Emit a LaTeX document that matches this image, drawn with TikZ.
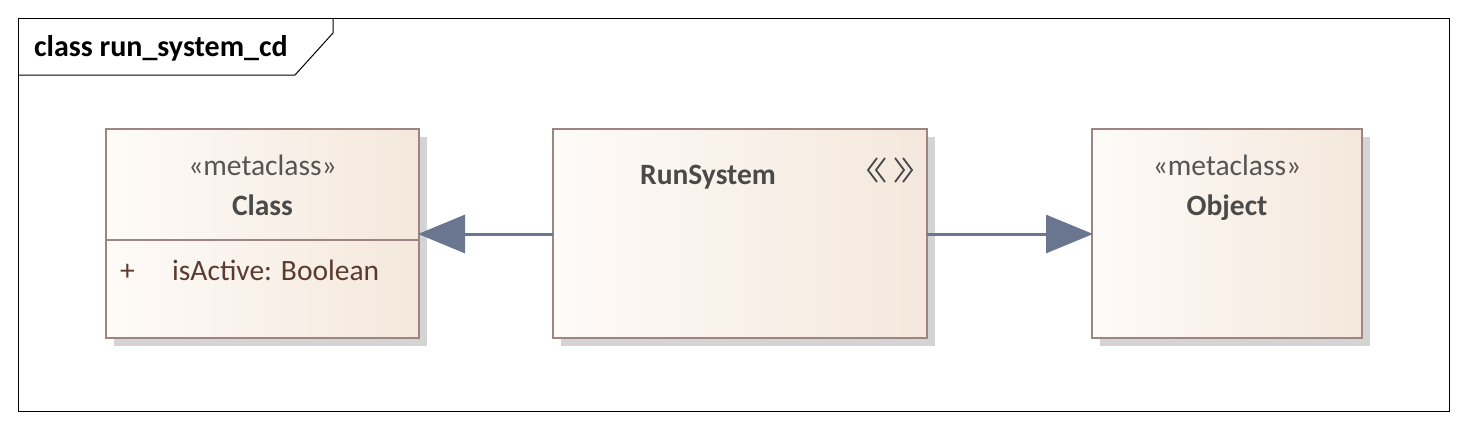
\documentclass[tikz,border=0pt]{standalone}
\usepackage{fontspec}
\setmainfont{Carlito}
\usetikzlibrary{arrows.meta,calc,shadows}
\definecolor{bord}{HTML}{9C8582}
\definecolor{fillL}{HTML}{FEFBF8}
\definecolor{fillR}{HTML}{F4E8DC}
\definecolor{shad}{HTML}{D4D4D4}
\definecolor{conncol}{HTML}{6A7590}
\definecolor{stereo}{HTML}{555555}
\definecolor{nametxt}{HTML}{4A4A4A}
\definecolor{attrtxt}{HTML}{5B3B2F}
\tikzset{
  umlbox/.style={draw=bord, line width=2.5pt, left color=fillL, right color=fillR,
    anchor=north west, inner sep=0pt, outer sep=0pt,
    drop shadow={shadow xshift=8pt, shadow yshift=-8pt, fill=shad, opacity=1}},
  stereotxt/.style={text=stereo, font=\fontsize{29.5}{34}\selectfont, inner sep=0pt, anchor=base},
  nmtxt/.style={text=nametxt, font=\fontsize{29.5}{34}\selectfont\bfseries, inner sep=0pt, anchor=base},
  attr/.style={text=attrtxt, font=\fontsize{29.5}{34}\selectfont, inner sep=0pt, anchor=base west},
  conn/.style={draw=conncol, line width=3pt, -{Triangle[length=47pt,width=38pt]}, shorten >=-1pt},
  icon/.style={draw=nametxt, line width=1.8pt}
}
\begin{document}
\begin{tikzpicture}[x=1pt,y=-1pt]
\useasboundingbox (0,0) rectangle (1467,429);
% frame
\draw[line width=1pt] (18,18) rectangle (1449,411);
\coordinate (tabA) at (18,75);
\coordinate (tabB) at (295,75);
\coordinate (tabC) at (333,33);
\coordinate (tabD) at (333,18);
\draw[line width=1pt] (tabA) -- (tabB) -- (tabC) -- (tabD);
\node[anchor=base west, inner sep=0pt, font=\fontsize{30}{34}\selectfont\bfseries] (title) at (34,56) {class run\_system\_cd};

% boxes
\node[umlbox, minimum width=313pt, minimum height=209pt] (cls) at (106,129) {};
\node[umlbox, minimum width=374pt, minimum height=209pt] (run) at (553,129) {};
\node[umlbox, minimum width=270pt, minimum height=209pt] (obj) at (1092,129) {};

% class compartments
\coordinate (divL) at (106,240);
\coordinate (divR) at (419,240);
\draw[bord, line width=2.5pt] (divL) -- (divR);
\node[stereotxt] (clsst) at (262.5,175) {«metaclass»};
\node[nmtxt] (clsnm) at (262.5,215) {Class};
\node[attr] (plus) at (120,280) {+};
\node[attr] (isact) at (172,280) {isActive: Boolean};

% RunSystem
\node[nmtxt] (runnm) at (708,184) {RunSystem};
\coordinate (ic) at (890,170);
\draw[icon] ($(ic)+(-13,-12)$) -- ($(ic)+(-22,0)$) -- ($(ic)+(-13,12)$);
\draw[icon] ($(ic)+(-5,-12)$) -- ($(ic)+(-14,0)$) -- ($(ic)+(-5,12)$);
\draw[icon] ($(ic)+(5,-12)$) -- ($(ic)+(14,0)$) -- ($(ic)+(5,12)$);
\draw[icon] ($(ic)+(13,-12)$) -- ($(ic)+(22,0)$) -- ($(ic)+(13,12)$);

% Object
\node[stereotxt] (objst) at (1227,175) {«metaclass»};
\node[nmtxt] (objnm) at (1227,215) {Object};

% connectors
\draw[conn] (run.west |- 0,234) -- (cls.east |- 0,234);
\draw[conn] (run.east |- 0,234) -- (obj.west |- 0,234);
\end{tikzpicture}
\end{document}
